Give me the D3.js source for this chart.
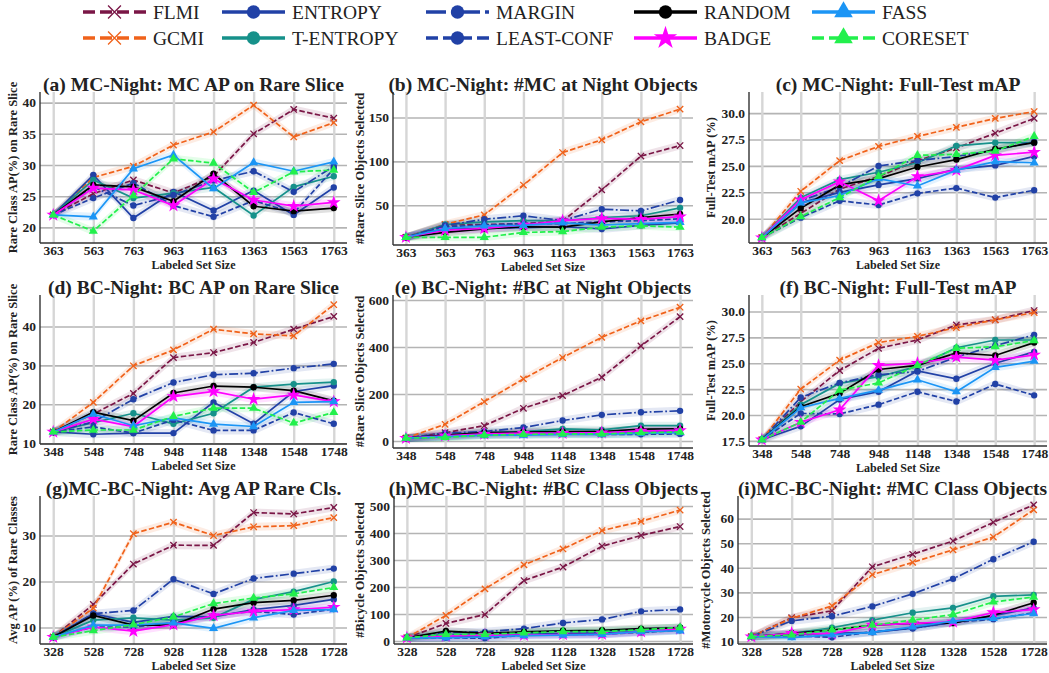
<!DOCTYPE html>
<html>
<head>
<meta charset="utf-8">
<script src="https://cdn.jsdelivr.net/npm/d3@7"></script>
<style>
  body { margin: 0; background: #fff; }
  text { font-family: "Liberation Serif", "Times New Roman", serif; }
</style>
</head>
<body>
<svg id="chart" width="1049" height="673"></svg>
<script>
// methods, in the order they are plotted (legend is filled column-wise)
const methods = ["FLMI", "GCMI", "ENTROPY", "T-ENTROPY", "MARGIN", "LEAST-CONF", "RANDOM", "BADGE", "FASS", "CORESET"];

// labeled set sizes
const sizesMC = [363, 563, 763, 963, 1163, 1363, 1563, 1763];
const sizesBC = [348, 548, 748, 948, 1148, 1348, 1548, 1748];
const sizesMCBC = [328, 528, 728, 928, 1128, 1328, 1528, 1728];

// (a) MC AP on rare slice
const apRareMC = {
  "FLMI":       [22, 25.4, 27.6, 25.5, 28.2, 35.0, 38.9, 37.5],
  "GCMI":       [22, 28.0, 29.8, 33.2, 35.3, 39.6, 34.5, 36.8],
  "ENTROPY":    [22, 28.4, 21.5, 25.7, 22.7, 25.9, 22.0, 26.4],
  "T-ENTROPY":  [22, 27.6, 24.7, 25.5, 26.4, 21.9, 26.5, 28.2],
  "MARGIN":     [22, 26.5, 23.5, 25.2, 27.5, 29.0, 25.7, 29.8],
  "LEAST-CONF": [22, 24.7, 27.1, 23.5, 21.7, 24.3, 22.3, 29.4],
  "RANDOM":     [22, 26.8, 26.5, 24.2, 28.6, 23.4, 22.6, 23.1],
  "BADGE":      [22, 26.3, 26.0, 23.5, 27.8, 24.4, 23.4, 24.0],
  "FASS":       [22, 21.7, 29.4, 31.6, 26.2, 30.4, 29.0, 30.5],
  "CORESET":    [22, 19.4, 25.1, 31.0, 30.3, 25.6, 28.9, 29.2]
};

// (b) number of MC-at-night objects selected
const countRareMC = {
  "FLMI":       [13.5, 27.6, 28, 29, 32, 67.5, 106, 118],
  "GCMI":       [13.5, 28.3, 39, 73, 110, 124.5, 145, 159.5],
  "ENTROPY":    [13.5, 22.5, 23.5, 24.5, 25.5, 23, 27, 30],
  "T-ENTROPY":  [13.5, 28, 31, 32.5, 32.5, 36, 38, 47],
  "MARGIN":     [13.5, 27, 34, 38, 32.5, 45.5, 43.5, 56],
  "LEAST-CONF": [13.5, 25.5, 27.5, 29, 29, 31, 32.5, 34.5],
  "RANDOM":     [13.5, 19, 23, 25.5, 25, 31, 36, 40],
  "BADGE":      [13.5, 21.5, 23.5, 27.5, 32.5, 35, 34, 37],
  "FASS":       [13.5, 23.5, 26.5, 27, 30, 27.5, 29, 30.5],
  "CORESET":    [13.5, 13.5, 13.5, 19, 20, 25, 26.5, 25]
};

// (c) MC-night full-test mAP
const mapMC = {
  "FLMI":       [18.2, 20.5, 22.8, 24.0, 25.5, 26.7, 28.1, 29.5],
  "GCMI":       [18.2, 22.6, 25.5, 26.85, 27.8, 28.65, 29.5, 30.15],
  "ENTROPY":    [18.2, 21.5, 22.5, 23.2, 23.8, 24.7, 25.05, 25.9],
  "T-ENTROPY":  [18.2, 22.0, 23.7, 24.4, 25.3, 26.9, 27.2, 27.2],
  "MARGIN":     [18.2, 21.7, 23.0, 25.0, 25.5, 25.9, 26.5, 27.3],
  "LEAST-CONF": [18.2, 20.1, 21.7, 21.3, 22.4, 22.9, 22.0, 22.7],
  "RANDOM":     [18.2, 21.0, 23.2, 23.8, 24.9, 25.6, 26.6, 27.2],
  "BADGE":      [18.2, 21.8, 23.5, 21.7, 24.0, 24.6, 26.0, 26.3],
  "FASS":       [18.2, 21.5, 22.2, 23.8, 23.1, 24.6, 25.4, 25.3],
  "CORESET":    [18.2, 20.2, 22.0, 24.0, 26.0, 26.1, 26.4, 27.8]
};

// (d) BC AP on rare slice
const apRareBC = {
  "FLMI":       [12.9, 17.5, 22.8, 32.0, 33.3, 35.9, 39.3, 42.6],
  "GCMI":       [12.9, 20.5, 29.9, 34.0, 39.3, 38.1, 37.6, 45.6],
  "ENTROPY":    [12.9, 12.3, 12.6, 12.6, 20.5, 15.0, 23.3, 24.8],
  "T-ENTROPY":  [12.9, 15.3, 17.7, 15.0, 17.7, 24.4, 25.2, 25.7],
  "MARGIN":     [12.9, 15.5, 21.3, 25.6, 27.6, 28.0, 29.3, 30.4],
  "LEAST-CONF": [12.9, 14.2, 12.6, 16.0, 13.3, 13.3, 17.9, 15.0],
  "RANDOM":     [12.9, 18.0, 15.8, 22.9, 24.7, 24.4, 23.5, 20.9],
  "BADGE":      [12.9, 16.2, 14.3, 22.0, 23.3, 21.3, 22.4, 20.7],
  "FASS":       [12.9, 17.5, 14.5, 16.5, 14.9, 14.3, 20.5, 20.7],
  "CORESET":    [12.9, 13.4, 13.4, 16.9, 19.0, 19.0, 15.2, 17.9]
};

// (e) number of BC-at-night objects selected
const countRareBC = {
  "FLMI":       [12, 35, 65, 139, 193, 271, 404, 529],
  "GCMI":       [12, 71, 167, 264, 355, 441, 511, 569],
  "ENTROPY":    [12, 20, 28, 33, 35, 35, 40, 45],
  "T-ENTROPY":  [12, 18, 35, 40, 51, 47, 65, 65],
  "MARGIN":     [12, 33, 40, 57, 87, 111, 122, 128],
  "LEAST-CONF": [12, 20, 25, 28, 30, 28, 28, 30],
  "RANDOM":     [12, 25, 35, 38, 40, 40, 50, 52],
  "BADGE":      [12, 22, 30, 33, 33, 35, 42, 45],
  "FASS":       [12, 18, 25, 25, 28, 28, 32, 35],
  "CORESET":    [12, 15, 25, 28, 30, 30, 35, 38]
};

// (f) BC-night full-test mAP
const mapBC = {
  "FLMI":       [17.6, 21.3, 24.3, 26.45, 27.25, 28.7, 29.2, 30.1],
  "GCMI":       [17.6, 22.5, 25.3, 27.0, 27.6, 28.45, 29.2, 29.9],
  "ENTROPY":    [17.6, 18.9, 21.5, 22.25, 24.25, 23.5, 25.0, 26.1],
  "T-ENTROPY":  [17.6, 21.0, 23.05, 23.7, 24.7, 26.5, 27.25, 27.25],
  "MARGIN":     [17.6, 21.7, 23.1, 23.9, 24.2, 25.6, 26.7, 27.75],
  "LEAST-CONF": [17.6, 20.15, 20.1, 21.0, 22.25, 21.3, 23.0, 21.9],
  "RANDOM":     [17.6, 20.8, 22.1, 24.4, 24.8, 26.0, 25.75, 27.0],
  "BADGE":      [17.6, 19.3, 20.5, 24.8, 25.0, 25.6, 25.3, 25.8],
  "FASS":       [17.6, 20.7, 21.6, 22.4, 23.4, 22.25, 24.6, 25.2],
  "CORESET":    [17.6, 19.3, 22.4, 23.1, 24.8, 26.45, 26.6, 27.2]
};

// (g) average AP of rare classes
const apRareMCBC = {
  "FLMI":       [7.9, 15.0, 23.8, 27.9, 27.85, 35.0, 34.7, 36.1],
  "GCMI":       [7.9, 14.2, 30.4, 32.9, 30.0, 31.9, 32.15, 33.9],
  "ENTROPY":    [7.9, 13.0, 11.1, 12.4, 12.3, 13.9, 14.8, 16.1],
  "T-ENTROPY":  [7.9, 11.6, 12.1, 11.6, 12.1, 16.1, 17.8, 20.0],
  "MARGIN":     [7.9, 13.0, 13.7, 20.5, 17.3, 20.65, 21.7, 22.8],
  "LEAST-CONF": [7.9, 10.1, 10.1, 11.0, 12.6, 13.5, 12.8, 14.0],
  "RANDOM":     [7.9, 12.6, 10.5, 10.5, 14.0, 15.4, 15.9, 17.0],
  "BADGE":      [7.9, 10.1, 9.2, 10.6, 12.6, 13.5, 13.9, 14.4],
  "FASS":       [7.9, 10.5, 10.5, 11.0, 9.8, 12.1, 13.7, 13.9],
  "CORESET":    [7.9, 9.3, 10.6, 12.3, 15.2, 16.4, 17.3, 18.7]
};

// (h) number of bicycle objects selected
const countBC = {
  "FLMI":       [12, 65, 98, 224, 274, 351, 391, 424],
  "GCMI":       [12, 95, 193, 282, 341, 409, 443, 485],
  "ENTROPY":    [12, 15, 20, 25, 28, 30, 35, 42],
  "T-ENTROPY":  [12, 25, 25, 30, 38, 38, 42, 50],
  "MARGIN":     [12, 32, 34, 46, 67, 80, 110, 117],
  "LEAST-CONF": [12, 12, 10, 22, 25, 25, 32, 40],
  "RANDOM":     [12, 37, 28, 34, 38, 40, 46, 49],
  "BADGE":      [12, 18, 22, 22, 24, 25, 35, 45],
  "FASS":       [12, 12, 15, 20, 22, 25, 35, 38],
  "CORESET":    [12, 25, 25, 30, 35, 35, 42, 50]
};

// (i) number of motorcycle objects selected
const countMC = {
  "FLMI":       [12, 19.7, 22.5, 40.4, 45.5, 50.9, 58.5, 65.6],
  "GCMI":       [12, 19.4, 24.5, 37.2, 42.2, 47.3, 52.5, 63.6],
  "ENTROPY":    [12, 12.9, 13.35, 13.75, 15.4, 17.8, 20.5, 23.7],
  "T-ENTROPY":  [12, 13.35, 15.6, 18.7, 21.7, 23.7, 28.4, 29.0],
  "MARGIN":     [12, 18.4, 20.3, 24.3, 29.4, 35.5, 43.5, 50.6],
  "LEAST-CONF": [12, 12.4, 11.7, 14.0, 15.4, 17.8, 19.1, 21.7],
  "RANDOM":     [12, 13.35, 14.7, 16.7, 17.4, 17.5, 20.7, 25.8],
  "BADGE":      [12, 13.35, 13.1, 16.7, 17.4, 18.0, 21.8, 23.0],
  "FASS":       [12, 11.6, 12.7, 13.75, 16.0, 18.3, 19.4, 21.4],
  "CORESET":    [12, 12.7, 14.7, 16.7, 18.7, 21.0, 26.1, 28.1]
};

// styles
const colors = {
  "FLMI": "#7a1646", "GCMI": "#f0621a", "ENTROPY": "#2141a6", "T-ENTROPY": "#16918a",
  "MARGIN": "#2141a6", "LEAST-CONF": "#2141a6", "RANDOM": "#000000", "BADGE": "#ff00ff",
  "FASS": "#1b95f5", "CORESET": "#22f04c"
};
const dashes = {
  "FLMI": "5.5,2.4", "GCMI": "5.5,2.4", "MARGIN": "9,2.4,1.8,2.4", "LEAST-CONF": "5.5,2.4", "CORESET": "5.5,2.4"
};
const legendDashes = {
  "FLMI": "12,5", "GCMI": "12,5", "MARGIN": "20,5,4,5", "LEAST-CONF": "12,5", "CORESET": "12,5"
};
const markers = {
  "FLMI": "x", "GCMI": "x", "ENTROPY": "circle", "T-ENTROPY": "circle", "MARGIN": "circle",
  "LEAST-CONF": "circle", "RANDOM": "circle", "BADGE": "star", "FASS": "triangle", "CORESET": "triangle"
};

const panels = [
  { title: "(a) MC-Night: MC AP on Rare Slice", ylabel: "Rare Class AP(%) on Rare Slice",
    xs: sizesMC, data: apRareMC, yDomain: [17.5, 41.7], yTicks: [20, 25, 30, 35, 40], fmt: "d",
    box: [40, 92, 347, 243], ylx: 14 },
  { title: "(b) MC-Night: #MC at Night Objects", ylabel: "#Rare Slice Objects Selected",
    xs: sizesMC, data: countRareMC, yDomain: [4.7, 179], yTicks: [50, 100, 150], fmt: "d",
    box: [393, 92, 693, 245], ylx: 361 },
  { title: "(c) MC-Night: Full-Test mAP", ylabel: "Full-Test mAP (%)",
    xs: sizesMC, data: mapMC, yDomain: [17.7, 32.0], yTicks: [20, 22.5, 25, 27.5, 30], fmt: ".1f",
    box: [749, 92, 1047, 243], ylx: 712 },
  { title: "(d) BC-Night: BC AP on Rare Slice", ylabel: "Rare Class AP(%) on Rare Slice",
    xs: sizesBC, data: apRareBC, yDomain: [9.8, 48.1], yTicks: [10, 20, 30, 40], fmt: "d",
    box: [40, 295, 347, 444], ylx: 14 },
  { title: "(e) BC-Night: #BC at Night Objects", ylabel: "#Rare Slice Objects Selected",
    xs: sizesBC, data: countRareBC, yDomain: [-30, 621], yTicks: [0, 200, 400, 600], fmt: "d",
    box: [393, 295, 693, 448], ylx: 361 },
  { title: "(f) BC-Night: Full-Test mAP", ylabel: "Full-Test mAP (%)",
    xs: sizesBC, data: mapBC, yDomain: [17.0, 31.6], yTicks: [17.5, 20, 22.5, 25, 27.5, 30], fmt: ".1f",
    box: [749, 295, 1047, 446], ylx: 712 },
  { title: "(g)MC-BC-Night: Avg AP Rare Cls.", ylabel: "Avg AP (%) of Rare Classes",
    xs: sizesMCBC, data: apRareMCBC, yDomain: [6.4, 38.6], yTicks: [10, 20, 30], fmt: "d",
    box: [40, 496, 347, 644], ylx: 14 },
  { title: "(h)MC-BC-Night: #BC Class Objects", ylabel: "#Bicycle Objects Selected",
    xs: sizesMCBC, data: countBC, yDomain: [-11, 537], yTicks: [0, 100, 200, 300, 400, 500], fmt: "d",
    box: [394, 496, 693, 644], ylx: 361 },
  { title: "(i)MC-BC-Night: #MC Class Objects", ylabel: "#Motorcycle Objects Selected",
    xs: sizesMCBC, data: countMC, yDomain: [9.0, 69.2], yTicks: [10, 20, 30, 40, 50, 60], fmt: "d",
    box: [738, 496, 1047, 644], ylx: 707 }
];

const svg = d3.select("#chart");
const symbols = { circle: d3.symbolCircle, x: d3.symbolTimes, star: d3.symbolStar, triangle: d3.symbolTriangle };
const markSize = { circle: 32, x: 28, star: 58, triangle: 36 };
const legendSize = { circle: 140, x: 110, star: 170, triangle: 150 };

function drawMarker(sel, m, size) {
  const kind = markers[m];
  const p = sel.attr("d", d3.symbol(symbols[kind], size[kind])());
  if (kind === "x") p.attr("fill", "none").attr("stroke", colors[m]).attr("stroke-width", 1.3);
  else p.attr("fill", colors[m]);
  return p;
}

panels.forEach(p => {
  const [x0, y0, x1, y1] = p.box;
  const x = d3.scalePoint().domain(p.xs).range([x0, x1]).padding(0.33);
  const y = d3.scaleLinear().domain(p.yDomain).range([y1, y0]);
  const g = svg.append("g");

  // axes with grid lines
  const yAxis = g.append("g").attr("transform", `translate(${x0},0)`)
    .call(d3.axisLeft(y).tickValues(p.yTicks).tickFormat(d3.format(p.fmt)).tickSize(-(x1 - x0)).tickPadding(4));
  yAxis.select(".domain").remove();
  yAxis.selectAll("line").attr("stroke", "#b4b4b4").attr("stroke-width", 1.6);

  const xAxis = g.append("g").attr("transform", `translate(0,${y1})`)
    .call(d3.axisBottom(x).tickSize(-(y1 - y0)).tickPadding(2));
  xAxis.select(".domain").remove();
  xAxis.selectAll("line").attr("stroke", "#d6d6d6").attr("stroke-width", 2.4);

  g.selectAll(".tick text")
    .attr("font-family", "'Liberation Serif', serif")
    .attr("font-weight", "bold").attr("font-size", 13.5).attr("fill", "#222");

  // bands
  const area = d3.area().x((d, j) => x(p.xs[j])).y0(d => y(d) - 4).y1(d => y(d) + 4);
  methods.forEach(m => {
    g.append("path").datum(p.data[m]).attr("d", area)
      .attr("fill", colors[m]).attr("fill-opacity", 0.12);
  });

  // lines and markers
  const line = d3.line().x((d, j) => x(p.xs[j])).y(d => y(d));
  methods.forEach(m => {
    g.append("path").datum(p.data[m]).attr("d", line)
      .attr("fill", "none").attr("stroke", colors[m]).attr("stroke-width", 1.7)
      .attr("stroke-dasharray", dashes[m] || null);
    g.append("g").selectAll("path").data(p.data[m]).join("path")
      .attr("transform", (d, j) => `translate(${x(p.xs[j])},${y(d)})`)
      .each(function () { drawMarker(d3.select(this), m, markSize); });
  });

  // spines
  g.append("line").attr("x1", x0).attr("x2", x0).attr("y1", y0).attr("y2", y1)
    .attr("stroke", "#333").attr("stroke-width", 1.4);
  g.append("line").attr("x1", x0).attr("x2", x1).attr("y1", y1).attr("y2", y1)
    .attr("stroke", "#333").attr("stroke-width", 1.4);

  // labels
  g.append("text").attr("x", (x0 + x1) / 2).attr("y", y0 - 1)
    .attr("text-anchor", "middle").attr("font-weight", "bold").attr("font-size", 19.5)
    .attr("fill", "#222").text(p.title);
  g.append("text").attr("x", (x0 + x1) / 2).attr("y", y1 + 25.5)
    .attr("text-anchor", "middle").attr("font-weight", "bold").attr("font-size", 12)
    .attr("fill", "#222").text("Labeled Set Size");
  g.append("text").attr("transform", `translate(${p.ylx},${(y0 + y1) / 2}) rotate(-90)`)
    .attr("text-anchor", "middle").attr("dominant-baseline", "middle")
    .attr("font-weight", "bold").attr("font-size", 12.5).attr("fill", "#222").text(p.ylabel);
});

// legend
const legendX = [83, 222, 426, 634, 812];
const legendY = [12, 38];
methods.forEach((m, i) => {
  const lx = legendX[Math.floor(i / 2)], ly = legendY[i % 2];
  const lg = svg.append("g");
  lg.append("line").attr("x1", lx).attr("x2", lx + 63).attr("y1", ly).attr("y2", ly)
    .attr("stroke", colors[m]).attr("stroke-width", 3.4)
    .attr("stroke-dasharray", legendDashes[m] || null);
  drawMarker(lg.append("path").attr("transform", `translate(${lx + 31.5},${ly})`), m, legendSize);
  lg.append("text").attr("x", lx + 70).attr("y", ly).attr("dominant-baseline", "central")
    .attr("font-size", 19.5).attr("fill", "#222").text(m);
});
</script>
</body>
</html>
